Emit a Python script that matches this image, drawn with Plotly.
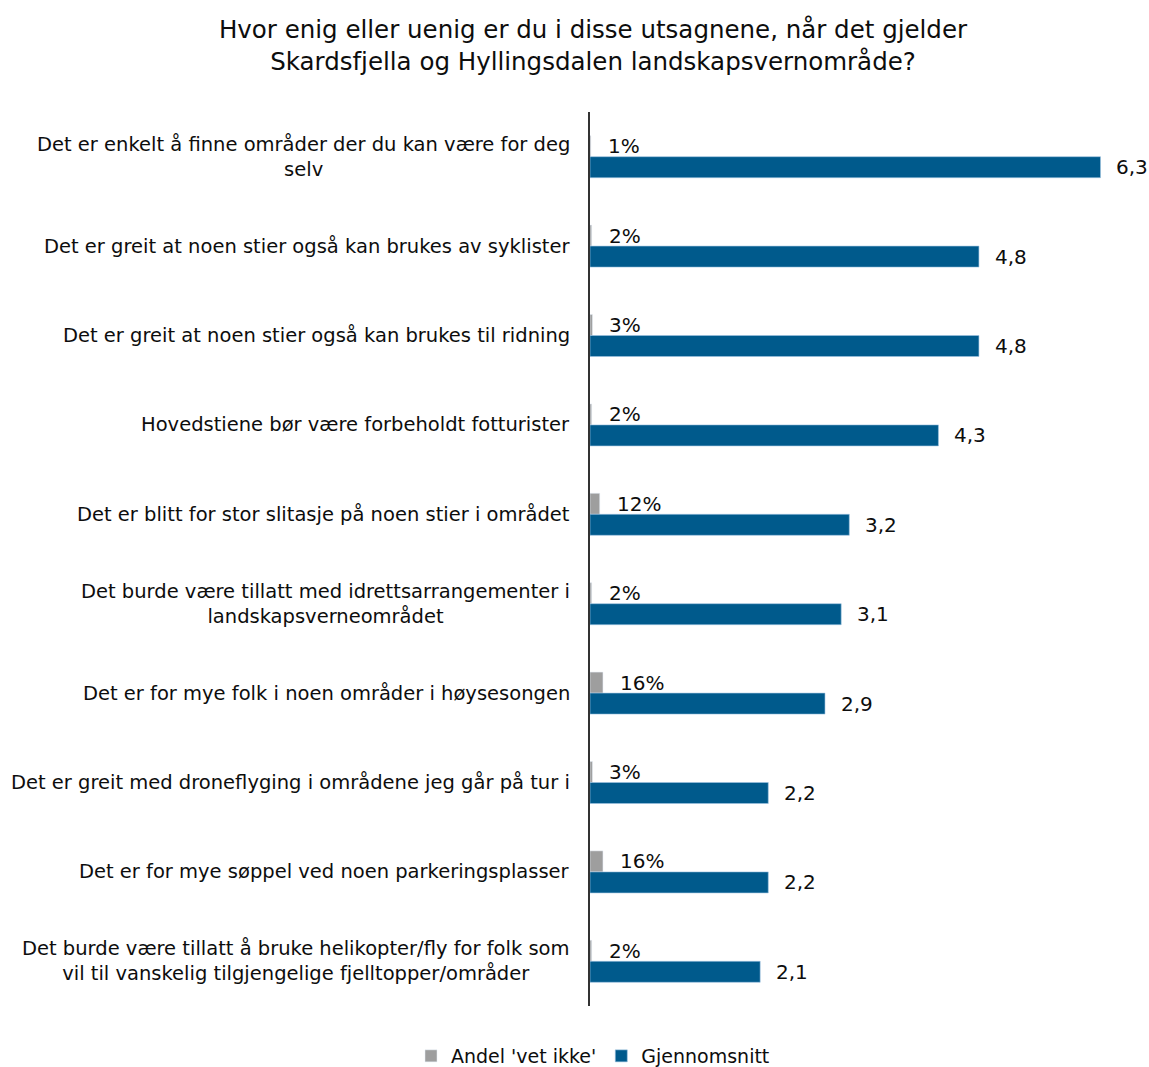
import plotly.graph_objects as go

categories = [
    "Det er enkelt å finne områder der du kan være for deg<br>selv",
    "Det er greit at noen stier også kan brukes av syklister",
    "Det er greit at noen stier også kan brukes til ridning",
    "Hovedstiene bør være forbeholdt fotturister",
    "Det er blitt for stor slitasje på noen stier i området",
    "Det burde være tillatt med idrettsarrangementer i<br>landskapsverneområdet",
    "Det er for mye folk i noen områder i høysesongen",
    "Det er greit med droneflyging i områdene jeg går på tur i",
    "Det er for mye søppel ved noen parkeringsplasser",
    "Det burde være tillatt å bruke helikopter/fly for folk som<br>vil til vanskelig tilgjengelige fjelltopper/områder",
]
vet_ikke = [0.01, 0.02, 0.03, 0.02, 0.12, 0.02, 0.16, 0.03, 0.16, 0.02]
gjennomsnitt = [6.3, 4.8, 4.8, 4.3, 3.2, 3.1, 2.9, 2.2, 2.2, 2.1]

title_text = ("Hvor enig eller uenig er du i disse utsagnene, når det gjelder<br>"
              "Skardsfjella og Hyllingsdalen landskapsvernområde?")

FONT = "DejaVu Sans"
GREY = "#9E9E9E"
BLUE = "#005A8C"
TXT = "#0d0d0d"

W, H = 1149, 1067

fig = go.Figure()
fig.add_trace(go.Bar(y=categories, x=vet_ikke, orientation="h", name="Andel 'vet ikke'",
                     marker=dict(color=GREY)))
fig.add_trace(go.Bar(y=categories, x=gjennomsnitt, orientation="h", name="Gjennomsnitt",
                     marker=dict(color=BLUE, line=dict(color="#9DC3E0", width=0.6))))

annotations = []
for c, v in zip(categories, vet_ikke):
    annotations.append(dict(x=v, y=c, xref="x", yref="y", text=f"{round(v*100)}%",
                            showarrow=False, xanchor="left", yanchor="middle",
                            xshift=15, yshift=10.5, font=dict(size=20, color=TXT)))
for c, v in zip(categories, gjennomsnitt):
    annotations.append(dict(x=v, y=c, xref="x", yref="y", text=f"{v:.1f}".replace(".", ","),
                            showarrow=False, xanchor="left", yanchor="middle",
                            xshift=14, yshift=-10.5, font=dict(size=20, color=TXT)))
for c in categories:
    annotations.append(dict(x=0, y=c, xref="paper", yref="y", text=c, showarrow=False,
                            xanchor="right", yanchor="middle", align="center", xshift=-18,
                            font=dict(size=19.5, color=TXT)))

fig.update_layout(
    width=W, height=H,
    paper_bgcolor="white", plot_bgcolor="white",
    font=dict(family=FONT, size=19, color=TXT),
    barmode="group", bargap=0.53, bargroupgap=0,
    margin=dict(l=590, r=8, t=112, b=61),
    title=dict(text=title_text, x=593 / W, xref="container", xanchor="center",
               y=1 - 38 / H, yref="container", yanchor="top",
               font=dict(size=24.5, color=TXT)),
    xaxis=dict(range=[0, 6.8], showgrid=False, zeroline=False, showticklabels=False,
               showline=False, ticks=""),
    yaxis=dict(autorange="reversed", showticklabels=False, showgrid=False, ticks="",
               showline=True, linecolor="#333", linewidth=2, zeroline=False),
    legend=dict(orientation="h", xref="container", yref="container", x=593 / W, y=1 - 1056 / H,
                xanchor="center", yanchor="middle", font=dict(size=19, color=TXT),
                itemwidth=30, traceorder="normal"),
    annotations=annotations,
    showlegend=True,
)

fig.write_html("out.html", config={"displayModeBar": False},
               post_script="document.body.style.margin='0';document.body.style.overflow='hidden';")
